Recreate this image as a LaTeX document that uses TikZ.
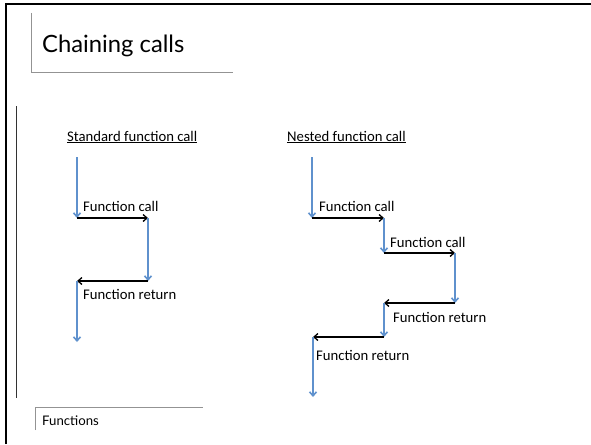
\documentclass[tikz,border=0pt]{standalone}
\usepackage{fontspec}
\setmainfont{Carlito}
\newfontfamily\slidefont{Lato}
\usetikzlibrary{arrows.meta}

\tikzset{
	flow/.style={draw=flowblue, line width=1.6pt, -{Straight Barb[length=4pt,width=7pt]}},
	jump/.style={draw=black, line width=1.3pt, -{Straight Barb[length=4pt,width=7pt]}},
	lbl/.style={anchor=west, inner sep=0pt, font=\fontsize{14.7}{17}\selectfont},
	rule/.style={draw=gray!85, line width=1pt}
}
\definecolor{flowblue}{RGB}{95,145,205}

\begin{document}
\begin{tikzpicture}[x=1pt,y=-1pt]
	
	\useasboundingbox (0,0) rectangle (591,444);
	
	% slide frame
	\draw[line width=2pt] (6,444) -- (6,4) -- (591,4);
	
	% title and footer
	\draw[rule] (31,13) -- (31,72) -- (233,72);
	\node[anchor=west, inner sep=0pt, font=\slidefont\fontsize{23.8}{28}\selectfont] (title) at (42,46) {Chaining calls};
	\draw[line width=1pt, black!80] (16,106) -- (16,398);
	\draw[rule] (35,430) -- (35,407) -- (203,407);
	\node[anchor=west, inner sep=0pt, font=\slidefont\fontsize{13.2}{15}\selectfont] (foot) at (42,421) {Functions};
	
	% standard call
	\node[lbl] (std) at (67,137) {\underline{Standard function call}};
	\coordinate (s0) at (77,157);
	\coordinate (s1) at (77,218);
	\coordinate (s2) at (148,218);
	\coordinate (s3) at (148,281);
	\coordinate (s4) at (77,281);
	\coordinate (s5) at (77,342);
	\draw[flow] (s0) -- (s1);
	\draw[jump] (s1) -- (s2);
	\draw[flow] (s2) -- (s3);
	\draw[jump] (s3) -- (s4);
	\draw[flow] (s4) -- (s5);
	\node[lbl] (scall) at (83,206) {Function call};
	\node[lbl] (sret) at (83,294) {Function return};
	
	% nested call
	\node[lbl] (nst) at (287,137) {\underline{Nested function call}};
	\coordinate (n0) at (312,157);
	\coordinate (n1) at (312,218);
	\coordinate (n2) at (384,218);
	\coordinate (n3) at (384,253);
	\coordinate (n4) at (455,253);
	\coordinate (n5) at (455,303);
	\coordinate (n6) at (384,303);
	\coordinate (n7) at (384,337);
	\coordinate (n8) at (313,337);
	\coordinate (n9) at (313,397);
	\draw[flow] (n0) -- (n1);
	\draw[jump] (n1) -- (n2);
	\draw[flow] (n2) -- (n3);
	\draw[jump] (n3) -- (n4);
	\draw[flow] (n4) -- (n5);
	\draw[jump] (n5) -- (n6);
	\draw[flow] (n6) -- (n7);
	\draw[jump] (n7) -- (n8);
	\draw[flow] (n8) -- (n9);
	\node[lbl] (ncall1) at (319,206) {Function call};
	\node[lbl] (ncall2) at (390,242) {Function call};
	\node[lbl] (nret1) at (393,317) {Function return};
	\node[lbl] (nret2) at (316,355) {Function return};
	
\end{tikzpicture}
\end{document}
